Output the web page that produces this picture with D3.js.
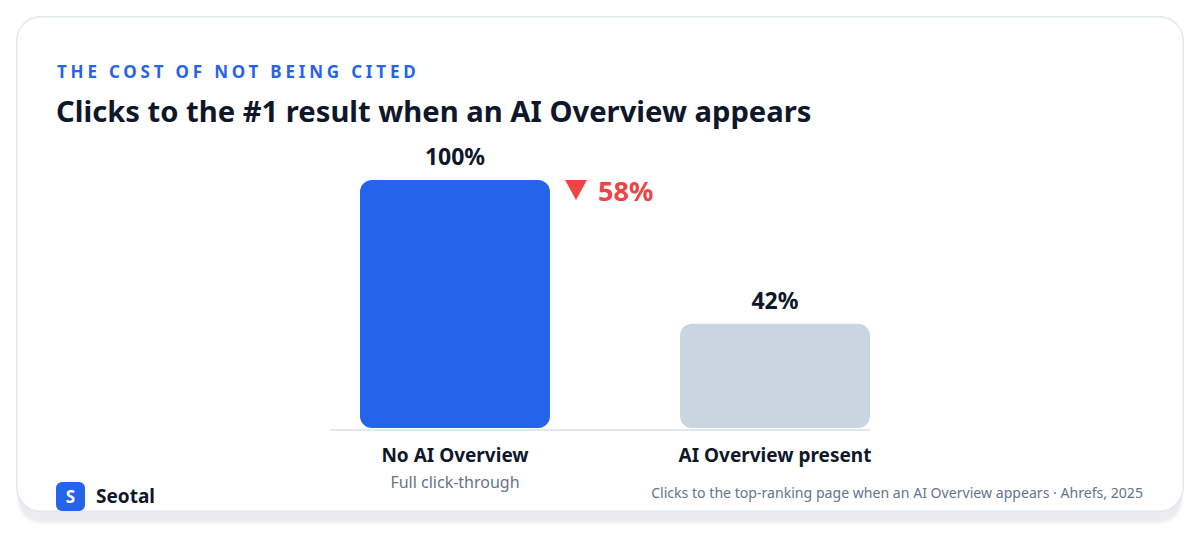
<!DOCTYPE html>
<html>
<head>
<meta charset="utf-8">
<script src="https://cdn.jsdelivr.net/npm/d3@7"></script>
<style>
  html, body { margin: 0; padding: 0; background: #ffffff; }
  body { width: 1200px; height: 540px; overflow: hidden; font-family: "Noto Sans", "Open Sans", sans-serif; }
  svg { display: block; }
</style>
</head>
<body>
<svg id="chart" width="1200" height="540"></svg>
<script>
// data
var categories = ['No AI Overview', 'AI Overview present'];
var subLabels = ['Full click-through', ''];
var clickShare = [100, 42];
var barColors = ['#2563eb', '#cbd5e1'];
var dropLabel = '58%';

var kicker = 'THE COST OF NOT BEING CITED',
    title = 'Clicks to the #1 result when an AI Overview appears',
    source = 'Clicks to the top-ranking page when an AI Overview appears \u00b7 Ahrefs, 2025',
    brand = 'Seotal';

var svg = d3.select('#chart');

// card + shadow
var defs = svg.append('defs');
var blur = defs.append('filter').attr('id', 'soft')
    .attr('x', '-5%').attr('y', '-5%').attr('width', '110%').attr('height', '120%');
blur.append('feGaussianBlur').attr('stdDeviation', 1.5);

svg.append('rect')
    .attr('x', 18).attr('y', 28)
    .attr('width', 1164).attr('height', 495)
    .attr('rx', 24)
    .attr('fill', '#eaecef')
    .attr('filter', 'url(#soft)');

svg.append('rect')
    .attr('x', 16.75).attr('y', 16.75)
    .attr('width', 1166.5).attr('height', 494.5)
    .attr('rx', 24)
    .attr('fill', '#ffffff')
    .attr('stroke', '#e2e8f0')
    .attr('stroke-width', 1.5);

// headings
svg.append('text')
    .attr('x', 57).attr('y', 78)
    .attr('fill', '#2563eb')
    .attr('font-size', 17)
    .attr('font-weight', 700)
    .attr('letter-spacing', 3.8)
    .text(kicker);

svg.append('text')
    .attr('x', 56).attr('y', 122)
    .attr('fill', '#0f172a')
    .attr('font-size', 29.2)
    .attr('font-weight', 700)
    .text(title);

// scales
var x = d3.scaleBand()
    .domain(categories)
    .range([330, 870])
    .paddingInner(0.40625)
    .paddingOuter(0.046875)
    .align(1);

var y = d3.scaleLinear()
    .domain([0, 100])
    .range([428, 180]);

// baseline
svg.append('line')
    .attr('x1', x.range()[0]).attr('x2', x.range()[1])
    .attr('y1', 430).attr('y2', 430)
    .attr('stroke', '#e2e8f0')
    .attr('stroke-width', 2);

var bars = svg.append('g').selectAll('g')
    .data(categories).enter()
    .append('g');

bars.append('rect')
    .attr('x', function(d) { return x(d); })
    .attr('y', function(d, i) { return y(clickShare[i]); })
    .attr('width', x.bandwidth())
    .attr('height', function(d, i) { return y(0) - y(clickShare[i]); })
    .attr('rx', 12)
    .attr('fill', function(d, i) { return barColors[i]; });

bars.append('text')
    .attr('x', function(d) { return x(d) + x.bandwidth() / 2; })
    .attr('y', function(d, i) { return y(clickShare[i]) - 15; })
    .attr('text-anchor', 'middle')
    .attr('fill', '#0f172a')
    .attr('font-size', 23)
    .attr('font-weight', 700)
    .text(function(d, i) { return clickShare[i] + '%'; });

bars.append('text')
    .attr('x', function(d) { return x(d) + x.bandwidth() / 2; })
    .attr('y', 462)
    .attr('text-anchor', 'middle')
    .attr('fill', '#0f172a')
    .attr('font-size', 19)
    .attr('font-weight', 700)
    .text(function(d) { return d; });

bars.append('text')
    .attr('x', function(d) { return x(d) + x.bandwidth() / 2; })
    .attr('y', 488)
    .attr('text-anchor', 'middle')
    .attr('fill', '#64748b')
    .attr('font-size', 16)
    .text(function(d, i) { return subLabels[i]; });

// drop marker next to the first bar
var dropX = x(categories[0]) + x.bandwidth() + 15,
    dropY = y(clickShare[0]);

svg.append('path')
    .attr('d', 'M' + dropX + ',' + dropY + 'h22l-11,20z')
    .attr('fill', '#ef4444');

svg.append('text')
    .attr('x', dropX + 33).attr('y', dropY + 21)
    .attr('fill', '#ef4444')
    .attr('font-size', 27)
    .attr('font-weight', 700)
    .text(dropLabel);

// footer
svg.append('rect')
    .attr('x', 56).attr('y', 482)
    .attr('width', 29).attr('height', 29)
    .attr('rx', 6)
    .attr('fill', '#2563eb');

svg.append('text')
    .attr('x', 70.5).attr('y', 502.5)
    .attr('text-anchor', 'middle')
    .attr('fill', '#ffffff')
    .attr('font-size', 17)
    .attr('font-weight', 700)
    .text(brand.charAt(0));

svg.append('text')
    .attr('x', 96).attr('y', 503)
    .attr('fill', '#0f172a')
    .attr('font-size', 19)
    .attr('font-weight', 700)
    .text(brand);

svg.append('text')
    .attr('x', 1143).attr('y', 498)
    .attr('text-anchor', 'end')
    .attr('fill', '#64748b')
    .attr('font-size', 14.1)
    .text(source);
</script>
</body>
</html>
